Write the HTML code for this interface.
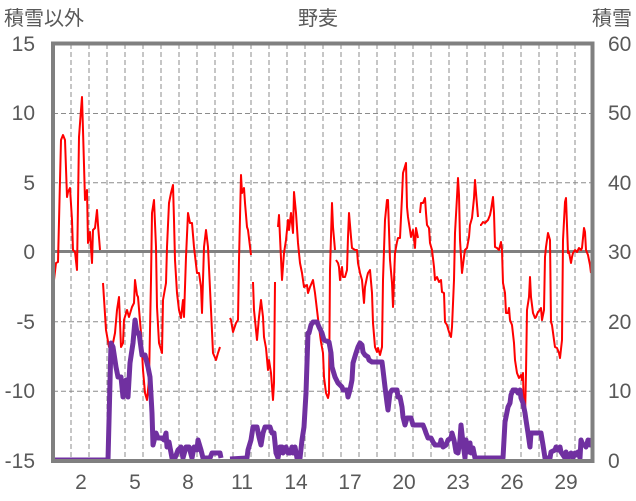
<!DOCTYPE html>
<html><head><meta charset="utf-8"><style>
html,body{margin:0;padding:0;background:#fff;}
svg{display:block;}
.t{font-family:"Liberation Sans","Noto Sans CJK JP",sans-serif;font-size:21px;fill:#595959;}
.c{font-family:"Liberation Sans","Noto Sans CJK JP",sans-serif;font-size:20px;fill:#595959;}
</style></head><body>
<svg width="636" height="501" viewBox="0 0 636 501" xmlns="http://www.w3.org/2000/svg">
<rect width="636" height="501" fill="#fff"/>
<g stroke="#8c8c8c" stroke-width="1" stroke-dasharray="5,3" fill="none">
<path d="M71,44V461M89,44V461M107,44V461M125,44V461M143,44V461M161,44V461M179,44V461M197,44V461M215,44V461M233,44V461M251,44V461M269,44V461M287,44V461M305,44V461M323,44V461M341,44V461M359,44V461M377,44V461M395,44V461M413,44V461M431,44V461M449,44V461M467,44V461M485,44V461M503,44V461M521,44V461M539,44V461M557,44V461M575,44V461"/>
<path d="M53,113.5H592M53,182.8H592M53,321.8H592M53,391.3H592"/>
</g>
<line x1="53" y1="251.5" x2="592" y2="251.5" stroke="#808080" stroke-width="3"/>
<g fill="none" stroke="#ff0000" stroke-width="2" stroke-linejoin="round">
<polyline points="54,280 56,263 58,262 61,140 63,135 65,140 67,197 68,192 70,188 72,220 73,250 75,252 77,270 79,137 81,110 82,97 83,130 85,200 87,190 88,243 90,232 92,263 93,230 95,228 97,210 98,225 100,250"/>
<polyline points="103,283 106,330 109,347 113,343 115,333 117,310 119,297 121,347 123,343 124,320 127,310 129,317 132,307 134,303 135,280 137,295 138,297 141,333 143,370 145,393 147,400 149,380 151,280 152,213 154,200 156,247 157,307 159,343 162,353 163,300 166,283 167,247 169,203 171,193 173,185 174,220 175,260 177,293 179,310 181,318 183,300 184,317 186,257 188,213 190,223 192,223 194,247 197,273 199,273 201,287 202,313 204,247 206,230 208,247 211,310 213,353 216,360 218,353 220,347"/>
<polyline points="230,318 231,320 233,332 236,323 238,320 239,260 241,175 242,193 244,188 245,203 247,227 248,230 251,255"/>
<polyline points="253,282 254,310 256,330 257,340 259,317 261,300 263,317 264,337 266,348 268,370 269,360 271,373 273,400 274,383 275,282"/>
<polyline points="278,227 279,215 280,237 282,280 284,253 286,240 288,220 289,230 291,213 293,233 294,192 296,213 298,243 300,263 302,273 304,287 307,285 308,293 310,287 313,280 315,293 317,310 319,327 321,342 323,353 324,377 326,393 328,398 329,393 330,270 332,203 333,227 335,250"/>
<polyline points="336,260 338,263 339,267 340,280 342,267 343,277 345,277 347,270 348,237 349,213 351,237 352,248 355,250 357,250 358,263 360,273 362,280 364,303 365,287 367,277 368,273 370,270 372,293 373,323 375,347 377,352 378,348 380,355 382,347 383,280 385,220 387,200 388,200 390,260 392,283 393,307 395,253 397,242 398,238 400,238 402,197 403,173 406,163 407,207 408,217 410,230 411,237 413,230 415,248 416,228 418,238"/>
<polyline points="420,213 421,203 423,203 425,198 426,213 427,225 429,228 430,243 432,250 434,267 435,280 437,277 439,282 441,280 442,292 444,293 445,322 447,325 449,332 451,337 452,327 454,280 455,233 457,197 458,178 459,195 460,240 462,273 464,257 465,250 467,248 469,237 470,225 472,218 474,198 475,180 476,193 478,217"/>
<polyline points="480,225 481,225 483,222 485,223 486,222 488,220 490,215 491,210 493,197 494,213 495,247 497,248 499,250 501,242 502,250 503,283 505,293 506,313 508,313 509,308 510,320 512,325 514,343 515,360 517,373 519,378 521,375 522,380 523,373 524,417 525,417 526,373 527,310 529,297 530,277 531,297 533,313 535,318 536,317 538,312 540,310 541,308 542,320 544,310 545,257 546,247 548,233 550,240 551,322 552,325 554,340 555,347 557,348 559,353 560,358 562,340 563,240 565,202 566,198 568,253 569,252 571,263 572,257 573,253 575,250 577,252 579,248 581,250 582,248 584,228 585,232 586,250 588,255 590,265 591,273"/>
</g>
<g fill="none" stroke="#7030a0" stroke-width="5" stroke-linejoin="round">
<polyline points="53,460 108,460 111,343 113,347 116,367 118,377 121,377 123,397 126,380 128,397 130,363 133,343 135,320 137,333 139,333 142,355 145,355 148,367 150,377 152,413 153,445 156,433 158,438 162,438 164,440 166,433 167,447 169,442 172,458 175,458 178,450 181,447 183,458 186,447 189,447 192,458 194,447 197,450 198,440 201,450 203,458 210,458 212,453 220,453 221,458"/>
<polyline points="230,459 247,458 248,450 251,440 253,427 257,427 259,437 261,445 263,433 265,427 270,427 272,433 274,433 276,453 278,458 280,447 282,447 283,453 286,447 288,453 290,453 292,447 293,453 295,447 297,458 300,458 302,440 304,427 306,393 308,333 309,333 311,325 313,322 317,322 319,327 322,333 324,340 329,342 331,353 332,367 335,377 338,383 342,387 343,390 347,390 348,397 350,390 352,380 353,363 356,353 358,347 360,343 362,345 363,352 365,355 368,357 369,360 372,362 382,362 383,370 385,387 387,403 388,410 390,393 392,390 397,390 398,397 400,397 402,407 403,417 405,425 407,418 411,418 413,425 423,425 425,430 426,433 428,438 431,438 433,442 435,445 440,445 441,440 443,447 446,445 448,440 451,438 452,433 454,440 456,452 458,453 460,440 461,425 463,443 465,458 466,440 468,452 470,443 471,453 473,448 475,458 503,458 505,422 506,417 508,407 510,403 511,395 513,390 516,390 518,393 520,390 521,398 523,403 525,413 526,420 528,433 530,447 531,433 541,433 543,445 545,458 550,458 551,452 555,450 556,447 558,450 560,447 561,452 563,455 565,458 566,452 568,458 571,453 573,458 575,453 576,455 578,452 580,458 581,440 583,445 585,445 586,447 588,440 590,445 591,438"/>
</g>
<rect x="53" y="43.5" width="539.5" height="417.5" fill="none" stroke="#808080" stroke-width="4"/>
<g class="t" text-anchor="end">
<text x="35" y="51">15</text>
<text x="35" y="120">10</text>
<text x="35" y="190">5</text>
<text x="35" y="259">0</text>
<text x="35" y="329">-5</text>
<text x="35" y="398">-10</text>
<text x="35" y="468">-15</text>
</g>
<g class="t" text-anchor="start">
<text x="608" y="51">60</text>
<text x="608" y="120">50</text>
<text x="608" y="190">40</text>
<text x="608" y="259">30</text>
<text x="608" y="329">20</text>
<text x="608" y="398">10</text>
<text x="608" y="468">0</text>
</g>
<g class="t" text-anchor="middle">
<text x="81" y="489">2</text>
<text x="135" y="489">5</text>
<text x="188" y="489">8</text>
<text x="242" y="489">11</text>
<text x="296" y="489">14</text>
<text x="350" y="489">17</text>
<text x="404" y="489">20</text>
<text x="458" y="489">23</text>
<text x="512" y="489">26</text>
<text x="566" y="489">29</text>
</g>
<text class="c" x="4" y="25">積雪以外</text>
<text class="c" x="318" y="25" text-anchor="middle">野麦</text>
<text class="c" x="632" y="25" text-anchor="end">積雪</text>
</svg>
</body></html>
